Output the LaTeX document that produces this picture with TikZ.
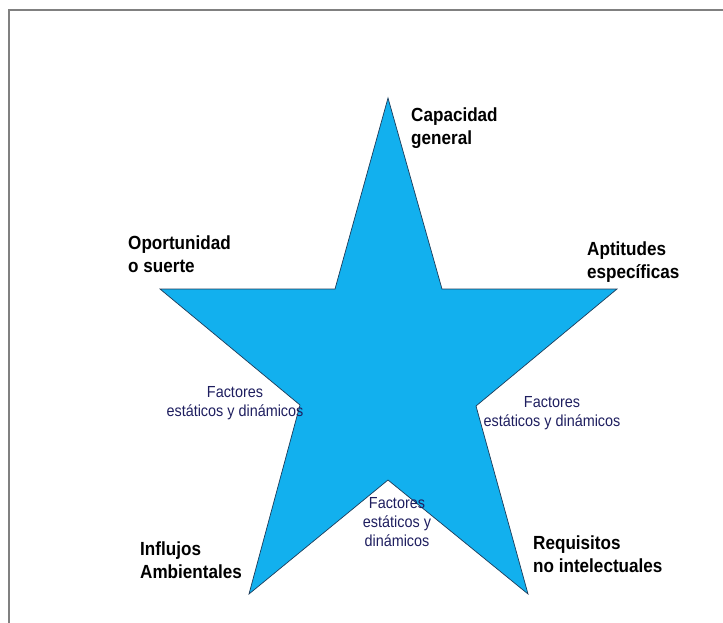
\documentclass[tikz,border=0pt]{standalone}
\usepackage{fontspec}
\setmainfont{Liberation Sans}
\newfontfamily\labfont[FakeStretch=0.9]{Liberation Sans}
\definecolor{starfill}{RGB}{18,176,238}
\definecolor{staredge}{RGB}{30,60,90}
\definecolor{factorcol}{RGB}{30,30,95}
\definecolor{framecol}{RGB}{128,128,128}
\begin{document}
\begin{tikzpicture}[x=1pt,y=-1pt,
  lab/.style={inner sep=0pt,anchor=north west,align=left,text=black,
    font=\labfont\bfseries\fontsize{19}{23}\selectfont},
  fac/.style={inner sep=0pt,anchor=north,align=center,text=factorcol,
    font=\labfont\fontsize{16}{19}\selectfont},
  starshape/.style={fill=starfill,draw=staredge,line width=0.7pt,line join=miter}]
\useasboundingbox (0,0) rectangle (723,623);
\begin{scope}
  \clip (0,0) rectangle (723,623);
  \draw[line width=2pt,color=framecol] (9,10) rectangle (760,660);
\end{scope}
% star vertices
\coordinate (top) at (388,98);
\coordinate (uri) at (442,289);
\coordinate (rt) at (617,289);
\coordinate (lri) at (476,406);
\coordinate (br) at (528,594);
\coordinate (bi) at (388,480);
\coordinate (bl) at (249,594);
\coordinate (lli) at (300,405);
\coordinate (lt) at (160,289);
\coordinate (uli) at (335,289);
\draw[starshape] (top) -- (uri) -- (rt) -- (lri) -- (br) -- (bi) -- (bl) -- (lli) -- (lt) -- (uli) -- cycle;
% labels
\node[lab] (cap) at (411,107) {\rule{0pt}{14pt}Capacidad\\general};
\node[lab] (opo) at (128,235) {\rule{0pt}{14pt}Oportunidad\\o suerte};
\node[lab] (apt) at (587,241) {\rule{0pt}{14pt}Aptitudes\\específicas};
\node[lab] (inf) at (140,541) {\rule{0pt}{14pt}Influjos\\Ambientales};
\node[lab] (req) at (533,535) {\rule{0pt}{14pt}Requisitos\\no intelectuales};
% factor texts
\node[fac] (facl) at (235,385) {\rule{0pt}{12pt}Factores\\estáticos y dinámicos};
\node[fac] (facr) at (552,395) {\rule{0pt}{12pt}Factores\\estáticos y dinámicos};
\node[fac] (facb) at (397,496) {\rule{0pt}{12pt}Factores\\estáticos y\\dinámicos};
\end{tikzpicture}
\end{document}
